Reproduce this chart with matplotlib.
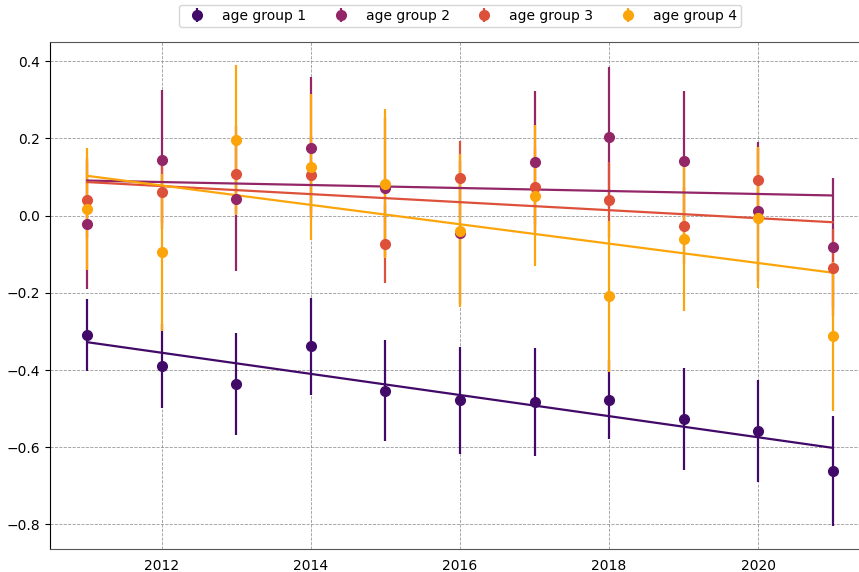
import numpy as np
import matplotlib
matplotlib.use("Agg")
import matplotlib.pyplot as plt

# Годы наблюдений
years = np.arange(2011, 2022)

# Значения по возрастным группам
group1 = [-0.309, -0.390, -0.436, -0.339, -0.454, -0.479, -0.483, -0.477, -0.526, -0.559, -0.661]
group1_err = [0.093, 0.109, 0.133, 0.126, 0.131, 0.139, 0.141, 0.103, 0.132, 0.132, 0.143]

group2 = [-0.021, 0.145, 0.044, 0.176, 0.072, -0.044, 0.140, 0.203, 0.142, 0.011, -0.082]
group2_err = [0.170, 0.180, 0.187, 0.183, 0.180, 0.185, 0.183, 0.183, 0.182, 0.180, 0.179]

group3 = [0.041, 0.060, 0.108, 0.106, -0.074, 0.097, 0.075, 0.041, -0.026, 0.091, -0.136]
group3_err = [0.100, 0.080, 0.100, 0.100, 0.101, 0.095, 0.100, 0.099, 0.100, 0.085, 0.100]

group4 = [0.017, -0.095, 0.196, 0.127, 0.082, -0.039, 0.052, -0.209, -0.060, -0.005, -0.313]
group4_err = [0.158, 0.204, 0.194, 0.189, 0.193, 0.199, 0.183, 0.196, 0.186, 0.183, 0.194]

labels = ["age group 1", "age group 2", "age group 3", "age group 4"]
colors = ["#420a68", "#932667", "#dd513a", "#fca50a"]

series = [(group1, group1_err), (group2, group2_err), (group3, group3_err), (group4, group4_err)]

fig = plt.figure(figsize=(8.59, 5.72), dpi=100)
ax = fig.add_axes([50 / 859, 1 - 549 / 572, 820 / 859, 507 / 572])

for (vals, errs), label, color in zip(series, labels, colors):
    vals = np.array(vals)
    ax.errorbar(years, vals, yerr=errs, fmt='o', color=color, ecolor=color,
                markersize=7, elinewidth=1.6, capsize=0, label=label)

# Линейные тренды по каждой группе
for (vals, errs), color in zip(series, colors):
    k, b = np.polyfit(years, vals, 1)
    ax.plot(years, k * years + b, color=color, linewidth=1.6)

ax.grid(True, linestyle='--', color='grey', linewidth=0.6, alpha=0.8)
ax.set_axisbelow(True)
ax.set_yticks([-0.8, -0.6, -0.4, -0.2, 0.0, 0.2, 0.4])
ax.set_xticks([2012, 2014, 2016, 2018, 2020])
ax.tick_params(axis='x', length=0, pad=7)
ax.tick_params(axis='y', length=3.5)
for side in ['top', 'bottom', 'right']:
    ax.spines[side].set_color('#555555')

ax.legend(loc='lower center', bbox_to_anchor=(0.5, 1.016), ncol=4,
          frameon=True, fontsize=10, handletextpad=0.8, columnspacing=1.5,
          borderpad=0.3)

fig.savefig('out.png', dpi=100)
